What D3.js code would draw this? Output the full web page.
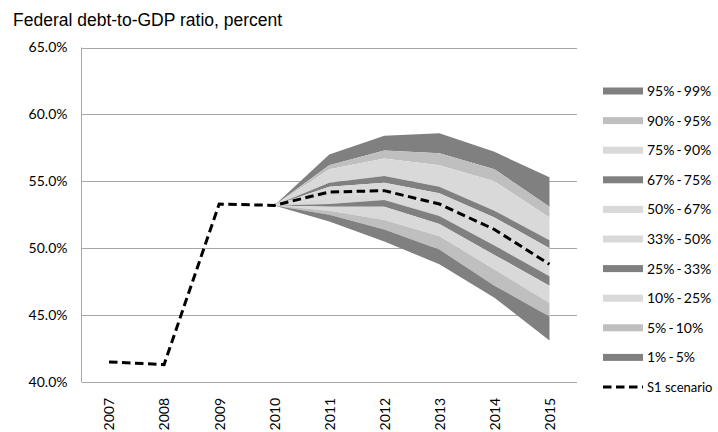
<!DOCTYPE html>
<html>
<head>
<meta charset="utf-8">
<script src="https://cdn.jsdelivr.net/npm/d3@7"></script>
<style>
  html, body { margin: 0; padding: 0; background: #fff; }
  svg { display: block; }
</style>
</head>
<body>
<svg id="chart" width="718" height="432"></svg>
<script>
// ---------- data ----------
const years = ["2007", "2008", "2009", "2010", "2011", "2012", "2013", "2014", "2015"];
const s1Scenario = [41.5, 41.3, 53.3, 53.2, 54.2, 54.3, 53.3, 51.4, 48.8];

const fanYears = ["2010", "2011", "2012", "2013", "2014", "2015"];
const p01 = [53.2, 52.0, 50.5, 48.8, 46.3, 43.1];
const p05 = [53.2, 52.5, 51.4, 49.9, 47.2, 44.9];
const p10 = [53.2, 52.8, 52.1, 50.9, 48.4, 45.9];
const p25 = [53.2, 53.1, 53.1, 51.8, 49.5, 47.2];
const p33 = [53.2, 53.3, 53.6, 52.4, 50.2, 47.9];
const p50 = [53.2, 53.8, 54.2, 53.3, 51.3, 48.8];
const p67 = [53.2, 54.6, 54.9, 54.1, 52.3, 50.0];
const p75 = [53.2, 54.9, 55.4, 54.6, 52.8, 50.6];
const p90 = [53.2, 55.9, 56.7, 56.2, 55.0, 52.3];
const p95 = [53.2, 56.2, 57.3, 57.1, 55.9, 53.1];
const p99 = [53.2, 57.0, 58.4, 58.6, 57.2, 55.3];

const bandLabels = ["95% - 99%", "90% - 95%", "75% - 90%", "67% - 75%", "50% - 67%",
                    "33% - 50%", "25% - 33%", "10% - 25%", "5% - 10%", "1% - 5%"];
const yTicks = [40, 45, 50, 55, 60, 65];
const title = "Federal debt-to-GDP ratio, percent";
const lineLabel = "S1 scenario";

(function () {
// ---------- styles ----------
const DARK = "#808080", MID = "#bfbfbf", LIGHT = "#d9d9d9";
const bands = [
  { lo: p95, hi: p99, color: DARK },
  { lo: p90, hi: p95, color: MID },
  { lo: p75, hi: p90, color: LIGHT },
  { lo: p67, hi: p75, color: DARK },
  { lo: p50, hi: p67, color: LIGHT },
  { lo: p33, hi: p50, color: LIGHT },
  { lo: p25, hi: p33, color: DARK },
  { lo: p10, hi: p25, color: LIGHT },
  { lo: p05, hi: p10, color: MID },
  { lo: p01, hi: p05, color: DARK }
];

const svg = d3.select("#chart");
const pLeft = 81.5, pRight = 577, pTop = 47.5, pBottom = 382;
const tickFont = "Lato, 'Open Sans', sans-serif";

const x = d3.scalePoint().domain(years).range([pLeft, pRight]).padding(0.5);
const y = d3.scaleLinear().domain([40, 65]).range([pBottom, pTop]);

// title
svg.append("text")
  .attr("x", 13).attr("y", 26)
  .attr("font-family", "'Liberation Sans', Arial, sans-serif")
  .attr("font-size", 17.5)
  .attr("fill", "#000")
  .text(title);

// gridlines
svg.append("g").selectAll("line")
  .data(yTicks.filter(t => t > 40))
  .join("line")
  .attr("x1", pLeft).attr("x2", pRight)
  .attr("y1", d => Math.round(y(d)) + 0.5).attr("y2", d => Math.round(y(d)) + 0.5)
  .attr("stroke", "#a6a6a6").attr("stroke-width", 1);

// y axis labels
const yAxis = d3.axisLeft(y).tickValues(yTicks).tickSize(0).tickPadding(14)
  .tickFormat(d => d3.format(".1f")(d) + "%");
const gy = svg.append("g").attr("transform", `translate(${pLeft},0)`).call(yAxis);
gy.select(".domain").remove();
gy.selectAll("text").attr("font-family", tickFont).attr("font-size", 14).attr("fill", "#000");

// fan bands
const area = d3.area()
  .x((d, i) => x(fanYears[i]))
  .y0(d => y(d[0]))
  .y1(d => y(d[1]));
svg.append("g").selectAll("path")
  .data(bands)
  .join("path")
  .attr("d", b => area(b.lo.map((v, i) => [v, b.hi[i]])))
  .attr("fill", b => b.color);

// axes lines
svg.append("line").attr("x1", pLeft).attr("x2", pLeft).attr("y1", pTop).attr("y2", pBottom)
  .attr("stroke", "#a6a6a6");
svg.append("line").attr("x1", pLeft).attr("x2", pRight)
  .attr("y1", Math.round(pBottom) + 0.5).attr("y2", Math.round(pBottom) + 0.5)
  .attr("stroke", "#a6a6a6");

// x axis labels
const xAxis = d3.axisBottom(x).tickSize(0);
const gx = svg.append("g").attr("transform", `translate(0,${pBottom})`).call(xAxis);
gx.select(".domain").remove();
gx.selectAll("text")
  .attr("font-family", tickFont).attr("font-size", 14).attr("fill", "#000")
  .attr("transform", "rotate(-90)")
  .attr("text-anchor", "end")
  .attr("x", -16).attr("y", 0).attr("dy", "0.35em");

// S1 line
const line = d3.line().x((d, i) => x(years[i])).y(d => y(d));
svg.append("path")
  .attr("d", line(s1Scenario))
  .attr("fill", "none").attr("stroke", "#000")
  .attr("stroke-width", 3).attr("stroke-dasharray", "8.5,4.5");

// legend
const legY = i => 91 + 29.6 * i;
const leg = svg.append("g");
bandLabels.forEach((lab, i) => {
  leg.append("rect").attr("x", 603).attr("y", legY(i) - 3.5).attr("width", 40).attr("height", 7)
    .attr("fill", bands[i].color);
  leg.append("text").attr("x", 647).attr("y", legY(i)).attr("dy", "0.35em")
    .attr("font-family", tickFont).attr("font-size", 14).attr("word-spacing", -1.5)
    .attr("fill", "#000").text(lab);
});
leg.append("line").attr("x1", 603).attr("x2", 643).attr("y1", legY(10)).attr("y2", legY(10))
  .attr("stroke", "#000").attr("stroke-width", 3).attr("stroke-dasharray", "8.5,4.5");
leg.append("text").attr("x", 647).attr("y", legY(10)).attr("dy", "0.35em")
  .attr("font-family", tickFont).attr("font-size", 13).attr("fill", "#000").text(lineLabel);
})();
</script>
</body>
</html>
